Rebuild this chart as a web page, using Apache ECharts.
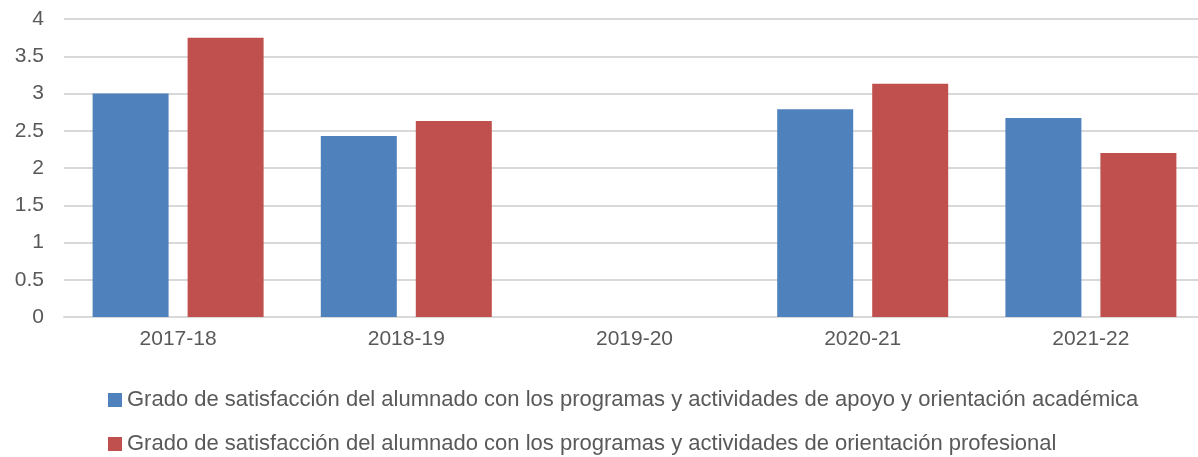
<!DOCTYPE html>
<html>
<head>
<meta charset="utf-8">
<script src="https://cdn.jsdelivr.net/npm/echarts@6/dist/echarts.min.js"></script>
<style>
  html, body { margin: 0; padding: 0; background: #fff; }
  #chart { width: 1198px; height: 457px; }
</style>
</head>
<body>
<div id="chart"></div>
<script>
var cursos = ['2017-18', '2018-19', '2019-20', '2020-21', '2021-22'];
var nombreAcademica = 'Grado de satisfacción del alumnado con los programas y actividades de apoyo y orientación académica';
var nombreProfesional = 'Grado de satisfacción del alumnado con los programas y actividades de orientación profesional';
var valoresAcademica = [3.0, 2.43, null, 2.79, 2.67];
var valoresProfesional = [3.75, 2.63, null, 3.13, 2.2];
var ejeY = { min: 0, max: 4, interval: 0.5 };

var fuente = '"Liberation Sans", Arial, sans-serif';
var gris = '#595959';

// leyenda en dos filas, una por serie
var leyenda = function(nombre, top) {
	return {
		left: 108,
		top: top,
		padding: 0,
		itemWidth: 14,
		itemHeight: 14,
		itemGap: 0,
		icon: 'rect',
		textStyle: { color: gris, fontSize: 22, fontFamily: fuente, padding: [0, 0, 0, 0] },
		data: [nombre]
	};
};

var chart = echarts.init(document.getElementById('chart'));
chart.setOption({
	animation: false,
	// el área de trazado sigue más allá del borde derecho, como en el original
	grid: { left: 64, top: 19, width: 1141, bottom: 140, outerBoundsMode: 'none' },
	legend: [leyenda(nombreAcademica, 389), leyenda(nombreProfesional, 433)],
	xAxis: {
		type: 'category',
		data: cursos,
		axisLine: { lineStyle: { color: '#d9d9d9', width: 2 } },
		axisTick: { show: false },
		axisLabel: { color: gris, fontSize: 21, fontFamily: fuente, margin: 12 }
	},
	yAxis: {
		type: 'value',
		min: ejeY.min,
		max: ejeY.max,
		interval: ejeY.interval,
		axisLine: { show: false },
		axisTick: { show: false },
		splitLine: { lineStyle: { color: '#d9d9d9', width: 2 } },
		axisLabel: { color: gris, fontSize: 21, fontFamily: fuente, margin: 20 }
	},
	series: [
		{
			name: nombreAcademica,
			type: 'bar',
			data: valoresAcademica,
			barWidth: 76,
			barGap: '25%',
			itemStyle: { color: '#4F81BD' }
		},
		{
			name: nombreProfesional,
			type: 'bar',
			data: valoresProfesional,
			barWidth: 76,
			itemStyle: { color: '#C0504D' }
		}
	]
});
</script>
</body>
</html>
